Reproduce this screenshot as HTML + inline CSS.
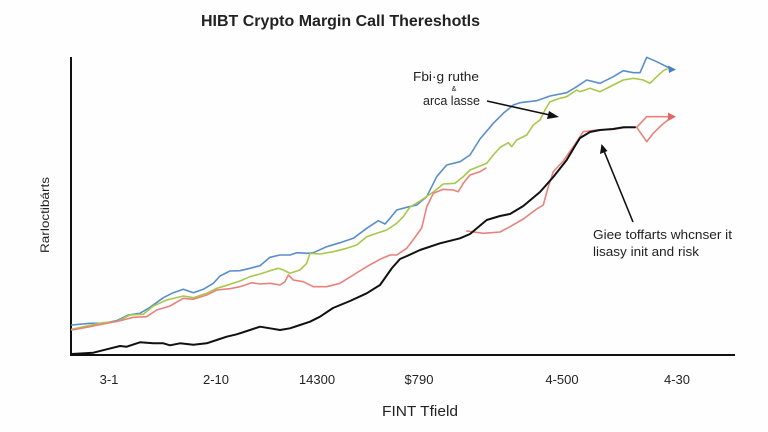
<!DOCTYPE html>
<html>
<head>
<meta charset="utf-8">
<style>
html,body{margin:0;padding:0;background:#fefefe;}
svg{display:block;}
text{font-family:"Liberation Sans",sans-serif;fill:#222;}
</style>
</head>
<body>
<svg width="768" height="432" viewBox="0 0 768 432" xmlns="http://www.w3.org/2000/svg">
<rect width="768" height="432" fill="#fefefe"/>
<text x="201" y="26" font-size="15.5" font-weight="bold" textLength="279" lengthAdjust="spacingAndGlyphs" fill="#111">HIBT Crypto Margin Call Thereshotls</text>

<!-- axes -->
<line x1="71" y1="57" x2="71" y2="356" stroke="#111" stroke-width="2"/>
<line x1="70" y1="355" x2="735" y2="355" stroke="#111" stroke-width="2"/>

<!-- y label -->
<text transform="translate(49,215) rotate(-90)" text-anchor="middle" font-size="12" textLength="76" lengthAdjust="spacingAndGlyphs">Rarloctibárts</text>

<!-- series -->
<g fill="none" stroke-linejoin="round" stroke-linecap="round">
<polyline stroke="#5a8ecb" stroke-width="1.6" points="71.7,325 90,323.3 103.3,323.3 116.7,320.7 128.3,315 140,313.3 150,307.3 163.3,297.7 173.3,292.7 183.3,289.3 193.3,292.7 203.3,289.3 213.3,283.3 220,276 230,271 240,270.7 250,268.3 260,265.7 270,257.3 280,255 290,255 296.7,252.7 306.7,253.3 313.3,252.7 326.7,246.7 340,242.7 353.3,238.3 366.7,228.3 378.3,220.7 385,224 390,218.3 396.7,210 406.7,207.3 416.7,205 426.7,196.7 436.7,176.7 446.7,165 460,161.7 470,155 480,139 493.3,123.3 503.3,113.3 513.3,105 520,102.7 536.7,100.7 550,96 566.7,92.7 576.7,86.7 586.7,80 600,83.3 613.3,76.7 623.3,70.7 633.3,72.7 640,72.7 646.7,57.3 656.7,61.7 670,68.3"/>
<polyline stroke="#a8c84c" stroke-width="1.6" points="71.7,329.3 86.7,326 103.3,322.7 116.7,321.7 130,315 143.3,314.3 153.3,306 166.7,300 183.3,296 193.3,297.7 206.7,293.3 216.7,288.3 230,284.3 240,281 250,276.7 260,274 270,270.7 278.3,268.3 283.3,270 290,273.3 300,270 306.7,263.3 310,253.3 320,254 333.3,251.7 346.7,248.3 356.7,245 366.7,236.7 376.7,233.3 386.7,230 396.7,223.3 403.3,216.7 410,207 420,201 433.3,192 443.3,184 455,183.3 463.3,176.7 470,170 480,166 486.7,163.3 493.3,155 500,147.5 508.3,142.7 511.7,146.7 516.7,140 526.7,135 533.3,125 540,120 545,110 550,101.7 560,98.3 566.7,96.7 576.7,90 580,91.7 590,88.3 600,91.7 613.3,85 623.3,80 633.3,78.3 643.3,80 650,83.3 656.7,76.7 663.3,70.7 667,69"/>
<polyline stroke="#e8827b" stroke-width="1.6" points="71.7,330 86.7,327.3 103.3,324 120,320.7 133.3,317.3 146.7,316.7 156.7,310 170,306 183.3,298.3 193.3,299.3 206.7,295 216.7,290 230,288.7 240,286.7 251.7,282.7 260,284 270,283.3 280,285 285,281.7 288.3,275 293.3,280 303.3,281.7 313.3,286.7 326.7,286.7 340,283.3 353.3,275 366.7,266.7 380,259.3 390,255 396.7,255 406.7,248.3 413,240 421.7,228 426.7,207 433.3,193.3 443.3,189.3 453.3,190 458.3,191.7 463.3,183.3 470,175 480,171.7 486,168"/>
<polyline stroke="#e8827b" stroke-width="1.6" points="466.7,231 483.3,233.3 500,232 510,226.7 523.3,219 536.7,209 543.3,205 548.3,186.7 553.3,171.7 563.3,161 573.3,146.7 583.3,131.7 596.7,130 613.3,129.3 626.7,127.3 636.7,127.3 643.3,136.7 646.7,141.7 653.3,133.3 661.7,125 672,116.7"/>
<polyline stroke="#e8827b" stroke-width="1.6" points="636.7,127.3 646.7,116.7 672,116.7"/>
<polyline stroke="#111" stroke-width="2" points="71.7,354 93.3,352.7 106.7,349.3 120,346 126.7,346.7 140,342.3 153.3,343.3 163.3,343.3 170,345.3 180,343.3 193.3,344.7 206.7,343.3 216.7,340 226.7,336.7 236.7,334.3 250,330 260,326.7 270,328.3 280,330 290,328.3 300,325 310,321.7 320,316.7 333,308 350,301 366.7,293.3 380,285 392,268 400,259 407,256 420,250 440,243.3 460,238.3 470,234 486.7,220 500,216 510,214 523.3,206 540,192 553.3,177 566.7,160 575,146 580,138 590,132 600,130 613,129 623,127.3 635,127.3"/>
</g>
<!-- end arrowheads -->
<polygon points="676,69.5 668,65.5 669,73" fill="#4a7fc0"/>
<polygon points="676,116.7 668,112.5 668,121" fill="#e06a62"/>

<!-- annotation 1 -->
<text x="413" y="81" font-size="13" textLength="66" lengthAdjust="spacingAndGlyphs">Fbi·g ruthe</text>
<text x="454" y="91" font-size="7" text-anchor="middle">&amp;</text>
<text x="423" y="105" font-size="13" textLength="57" lengthAdjust="spacingAndGlyphs">arca lasse</text>
<line x1="487" y1="101" x2="552" y2="115.5" stroke="#111" stroke-width="1.6"/>
<polygon points="559,117 549,111 547,119" fill="#111"/>

<!-- annotation 2 -->
<line x1="633" y1="222" x2="604" y2="151" stroke="#111" stroke-width="1.6"/>
<polygon points="601.5,144 600,154 607.5,151" fill="#111"/>
<text x="593" y="239" font-size="13" textLength="139" lengthAdjust="spacingAndGlyphs">Giee toffarts whcnser it</text>
<text x="593" y="256" font-size="13" textLength="106" lengthAdjust="spacingAndGlyphs">lisasy init and risk</text>

<!-- x tick labels -->
<g font-size="13" text-anchor="middle">
<text x="109" y="384">3-1</text>
<text x="216" y="384">2-10</text>
<text x="317" y="384">14300</text>
<text x="419" y="384">$790</text>
<text x="562" y="384">4-500</text>
<text x="677" y="384">4-30</text>
</g>
<text x="420" y="416" font-size="15" text-anchor="middle" textLength="76" lengthAdjust="spacingAndGlyphs">FINT Tfield</text>
</svg>
</body>
</html>
